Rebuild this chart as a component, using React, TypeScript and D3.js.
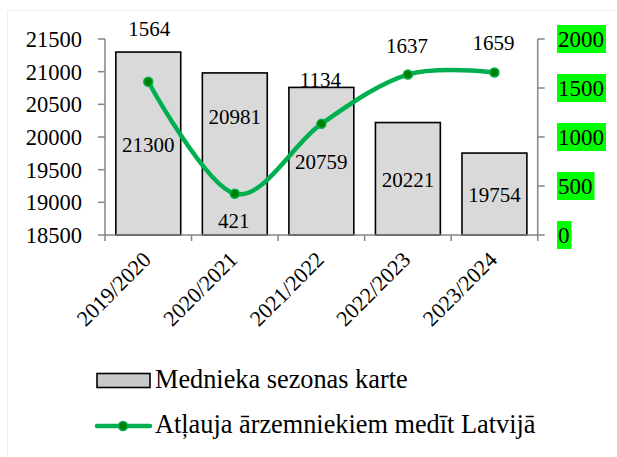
import React from "react";
import * as d3 from "d3";

const categories = ["2019/2020", "2020/2021", "2021/2022", "2022/2023", "2023/2024"];
const huntingCards = [21300, 20981, 20759, 20221, 19754];
const foreignPermits = [1564, 421, 1134, 1637, 1659];
const leftTicks = [18500, 19000, 19500, 20000, 20500, 21000, 21500];
const rightTicks = [0, 500, 1000, 1500, 2000];
const barSeriesName = "Mednieka sezonas karte";
const lineSeriesName = "Atļauja ārzemniekiem medīt Latvijā";

// label placement offsets (pixels), relative to bar top / point
const barLabelDy = [93, 44, 74.5, 57.5, 42];
const lineLabelDy = [-53.5, 26.5, -44, -28.5, -29.5];
const lineLabelDx = [1, -1, -1, -1, -1];

const W = 617;
const H = 457;
const left = 105;
const right = 537.7;
const top = 39;
const bottom = 235;
const FONT = "'Liberation Serif', 'Times New Roman', serif";
const AXIS = "#868686";

export default function App() {
  const x = d3.scaleBand<string>().domain(categories).range([left, right]).paddingInner(0.25).paddingOuter(0.125);
  const step = (right - left) / categories.length;
  const yL = d3.scaleLinear().domain([18500, 21500]).range([bottom, top]);
  const yR = d3.scaleLinear().domain([0, 2000]).range([bottom, top]);
  const cx = (c: string) => (x(c) as number) + x.bandwidth() / 2;

  const line = d3
    .line<number>()
    .x((_, i) => cx(categories[i]))
    .y((d) => yR(d))
    .curve(d3.curveCardinal.tension(0));

  return (
    <svg width={W} height={H} style={{ position: "absolute", left: 0, top: 0, background: "#fff" }} fontFamily={FONT}>
      <rect x={7.5} y={10.5} width={640} height={480} fill="none" stroke="#eeeeee" strokeWidth={1} />
      {/* bars */}
      {huntingCards.map((v, i) => (
        <rect
          key={i}
          x={x(categories[i])}
          y={yL(v)}
          width={x.bandwidth()}
          height={bottom - yL(v)}
          fill="#d9d9d9"
          stroke="#000"
          strokeWidth={1.6}
        />
      ))}
      {/* left axis */}
      <line x1={left} x2={left} y1={top} y2={bottom} stroke={AXIS} strokeWidth={1.5} />
      {leftTicks.map((t) => (
        <g key={t}>
          <line x1={left - 7} x2={left} y1={yL(t)} y2={yL(t)} stroke={AXIS} strokeWidth={1.5} />
          <text x={82} y={yL(t)} dy="0.35em" textAnchor="end" fontSize={22.5} fill="#000">
            {t}
          </text>
        </g>
      ))}
      {/* right axis */}
      <line x1={right} x2={right} y1={top} y2={bottom} stroke={AXIS} strokeWidth={1.5} />
      {rightTicks.map((t) => {
        const s = String(t);
        const w = s.length * 0.5 * 23 + 3;
        return (
          <g key={t}>
            <line x1={right} x2={right + 7} y1={yR(t)} y2={yR(t)} stroke={AXIS} strokeWidth={1.5} />
            <rect x={557} y={yR(t) - 14} width={w} height={28} fill="#00ff00" />
            <text x={558} y={yR(t)} dy="0.35em" textAnchor="start" fontSize={23} fill="#000">
              {s}
            </text>
          </g>
        );
      })}
      {/* x axis */}
      <line x1={left} x2={right} y1={bottom} y2={bottom} stroke={AXIS} strokeWidth={1.5} />
      {d3.range(categories.length + 1).map((i) => (
        <line key={i} x1={left + i * step} x2={left + i * step} y1={bottom} y2={bottom + 6} stroke={AXIS} strokeWidth={1.5} />
      ))}
      {categories.map((c) => (
        <text
          key={c}
          transform={`translate(${cx(c) + 4},${bottom + 26}) rotate(-45)`}
          textAnchor="end"
          fontSize={22}
          fill="#000"
        >
          {c}
        </text>
      ))}
      {/* bar labels */}
      {huntingCards.map((v, i) => (
        <text key={i} x={cx(categories[i])} y={yL(v) + barLabelDy[i]} dy="0.35em" textAnchor="middle" fontSize={21} fill="#000">
          {v}
        </text>
      ))}
      {/* line */}
      <path d={line(foreignPermits) || ""} fill="none" stroke="#00b050" strokeWidth={4.5} strokeLinecap="round" />
      {foreignPermits.map((v, i) => (
        <circle key={i} cx={cx(categories[i])} cy={yR(v)} r={4.5} fill="#008000" stroke="#00b050" strokeWidth={1.5} />
      ))}
      {foreignPermits.map((v, i) => (
        <text
          key={i}
          x={cx(categories[i]) + lineLabelDx[i]}
          y={yR(v) + lineLabelDy[i]}
          dy="0.35em"
          textAnchor="middle"
          fontSize={21}
          fill="#000"
        >
          {v}
        </text>
      ))}
      {/* legend */}
      <rect x={97} y={373.5} width={53} height={14} fill="#c8c8c8" stroke="#000" strokeWidth={1.6} />
      <text x={155} y={388} fontSize={26.3} fill="#000">
        {barSeriesName}
      </text>
      <line x1={97} x2={150} y1={426} y2={426} stroke="#00b050" strokeWidth={4.5} strokeLinecap="round" />
      <circle cx={123} cy={426} r={4.5} fill="#008000" stroke="#00b050" strokeWidth={1.5} />
      <text x={155} y={433} fontSize={26.3} fill="#000">
        {lineSeriesName}
      </text>
    </svg>
  );
}
